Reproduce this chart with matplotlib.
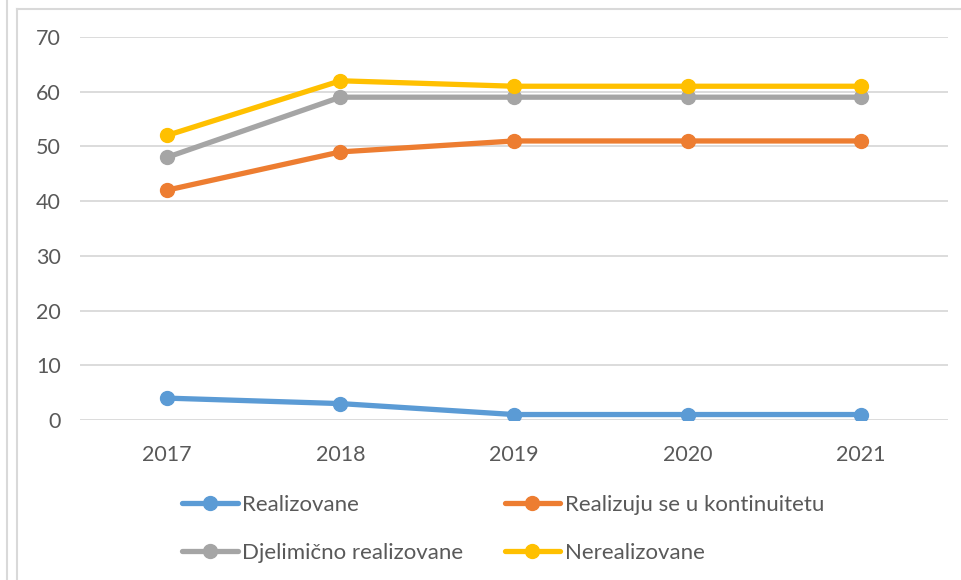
import matplotlib.pyplot as plt
from matplotlib.lines import Line2D

years = ["2017", "2018", "2019", "2020", "2021"]
realizovane = [4, 3, 1, 1, 1]
kontinuitet = [42, 49, 51, 51, 51]
djelimicno = [48, 59, 59, 59, 59]
nerealizovane = [52, 62, 61, 61, 61]

names = ["Realizovane", "Realizuju se u kontinuitetu",
         "Djelimično realizovane", "Nerealizovane"]
colors = ["#5B9BD5", "#ED7D31", "#A5A5A5", "#FFC000"]
yticks = [0, 10, 20, 30, 40, 50, 60, 70]

plt.rcParams['font.family'] = ['Lato', 'DejaVu Sans']
TXT = "#595959"

fig = plt.figure(figsize=(9.61, 5.8), dpi=100)
ax = fig.add_axes([80 / 961, 1 - 420 / 580, 868 / 961, 383 / 580])

x = list(range(len(years)))
lines = []
for vals, name, c in zip([realizovane, kontinuitet, djelimicno, nerealizovane], names, colors):
    ln, = ax.plot(x, vals, color=c, lw=3.8, marker="o", ms=10,
                  solid_capstyle="round", label=name, zorder=3)
    lines.append(ln)

ax.set_xlim(-0.5, len(years) - 0.5)
ax.set_ylim(0, 70)
ax.set_xticks(x)
ax.set_xticklabels(years)
ax.set_yticks(yticks)
ax.grid(axis="y", color="#D9D9D9", lw=1.3)
ax.set_axisbelow(True)
for s in ax.spines.values():
    s.set_visible(False)
ax.tick_params(axis="both", length=0, labelsize=15.5, colors=TXT)
ax.tick_params(axis="y", pad=14)
ax.tick_params(axis="x", pad=18)

# legend in Excel row order
order = [0, 2, 1, 3]
fig.legend([lines[i] for i in order], [names[i] for i in order],
           ncol=2, loc="upper left", bbox_to_anchor=(162 / 961, 1 - 475 / 580),
           frameon=False, fontsize=16, labelcolor=TXT, handlelength=2.5,
           handletextpad=0.22, labelspacing=1.25, columnspacing=1.85)

# chart borders (cropped screenshot)
fig.add_artist(Line2D([7 / 961, 7 / 961], [0, 1], color="#D9D9D9", lw=1.5))
fig.add_artist(Line2D([17 / 961, 17 / 961], [0, 1 - 9 / 580], color="#D9D9D9", lw=1.5))
fig.add_artist(Line2D([17 / 961, 1], [1 - 9 / 580, 1 - 9 / 580], color="#D9D9D9", lw=1.5))

fig.savefig("out.png", dpi=100)
